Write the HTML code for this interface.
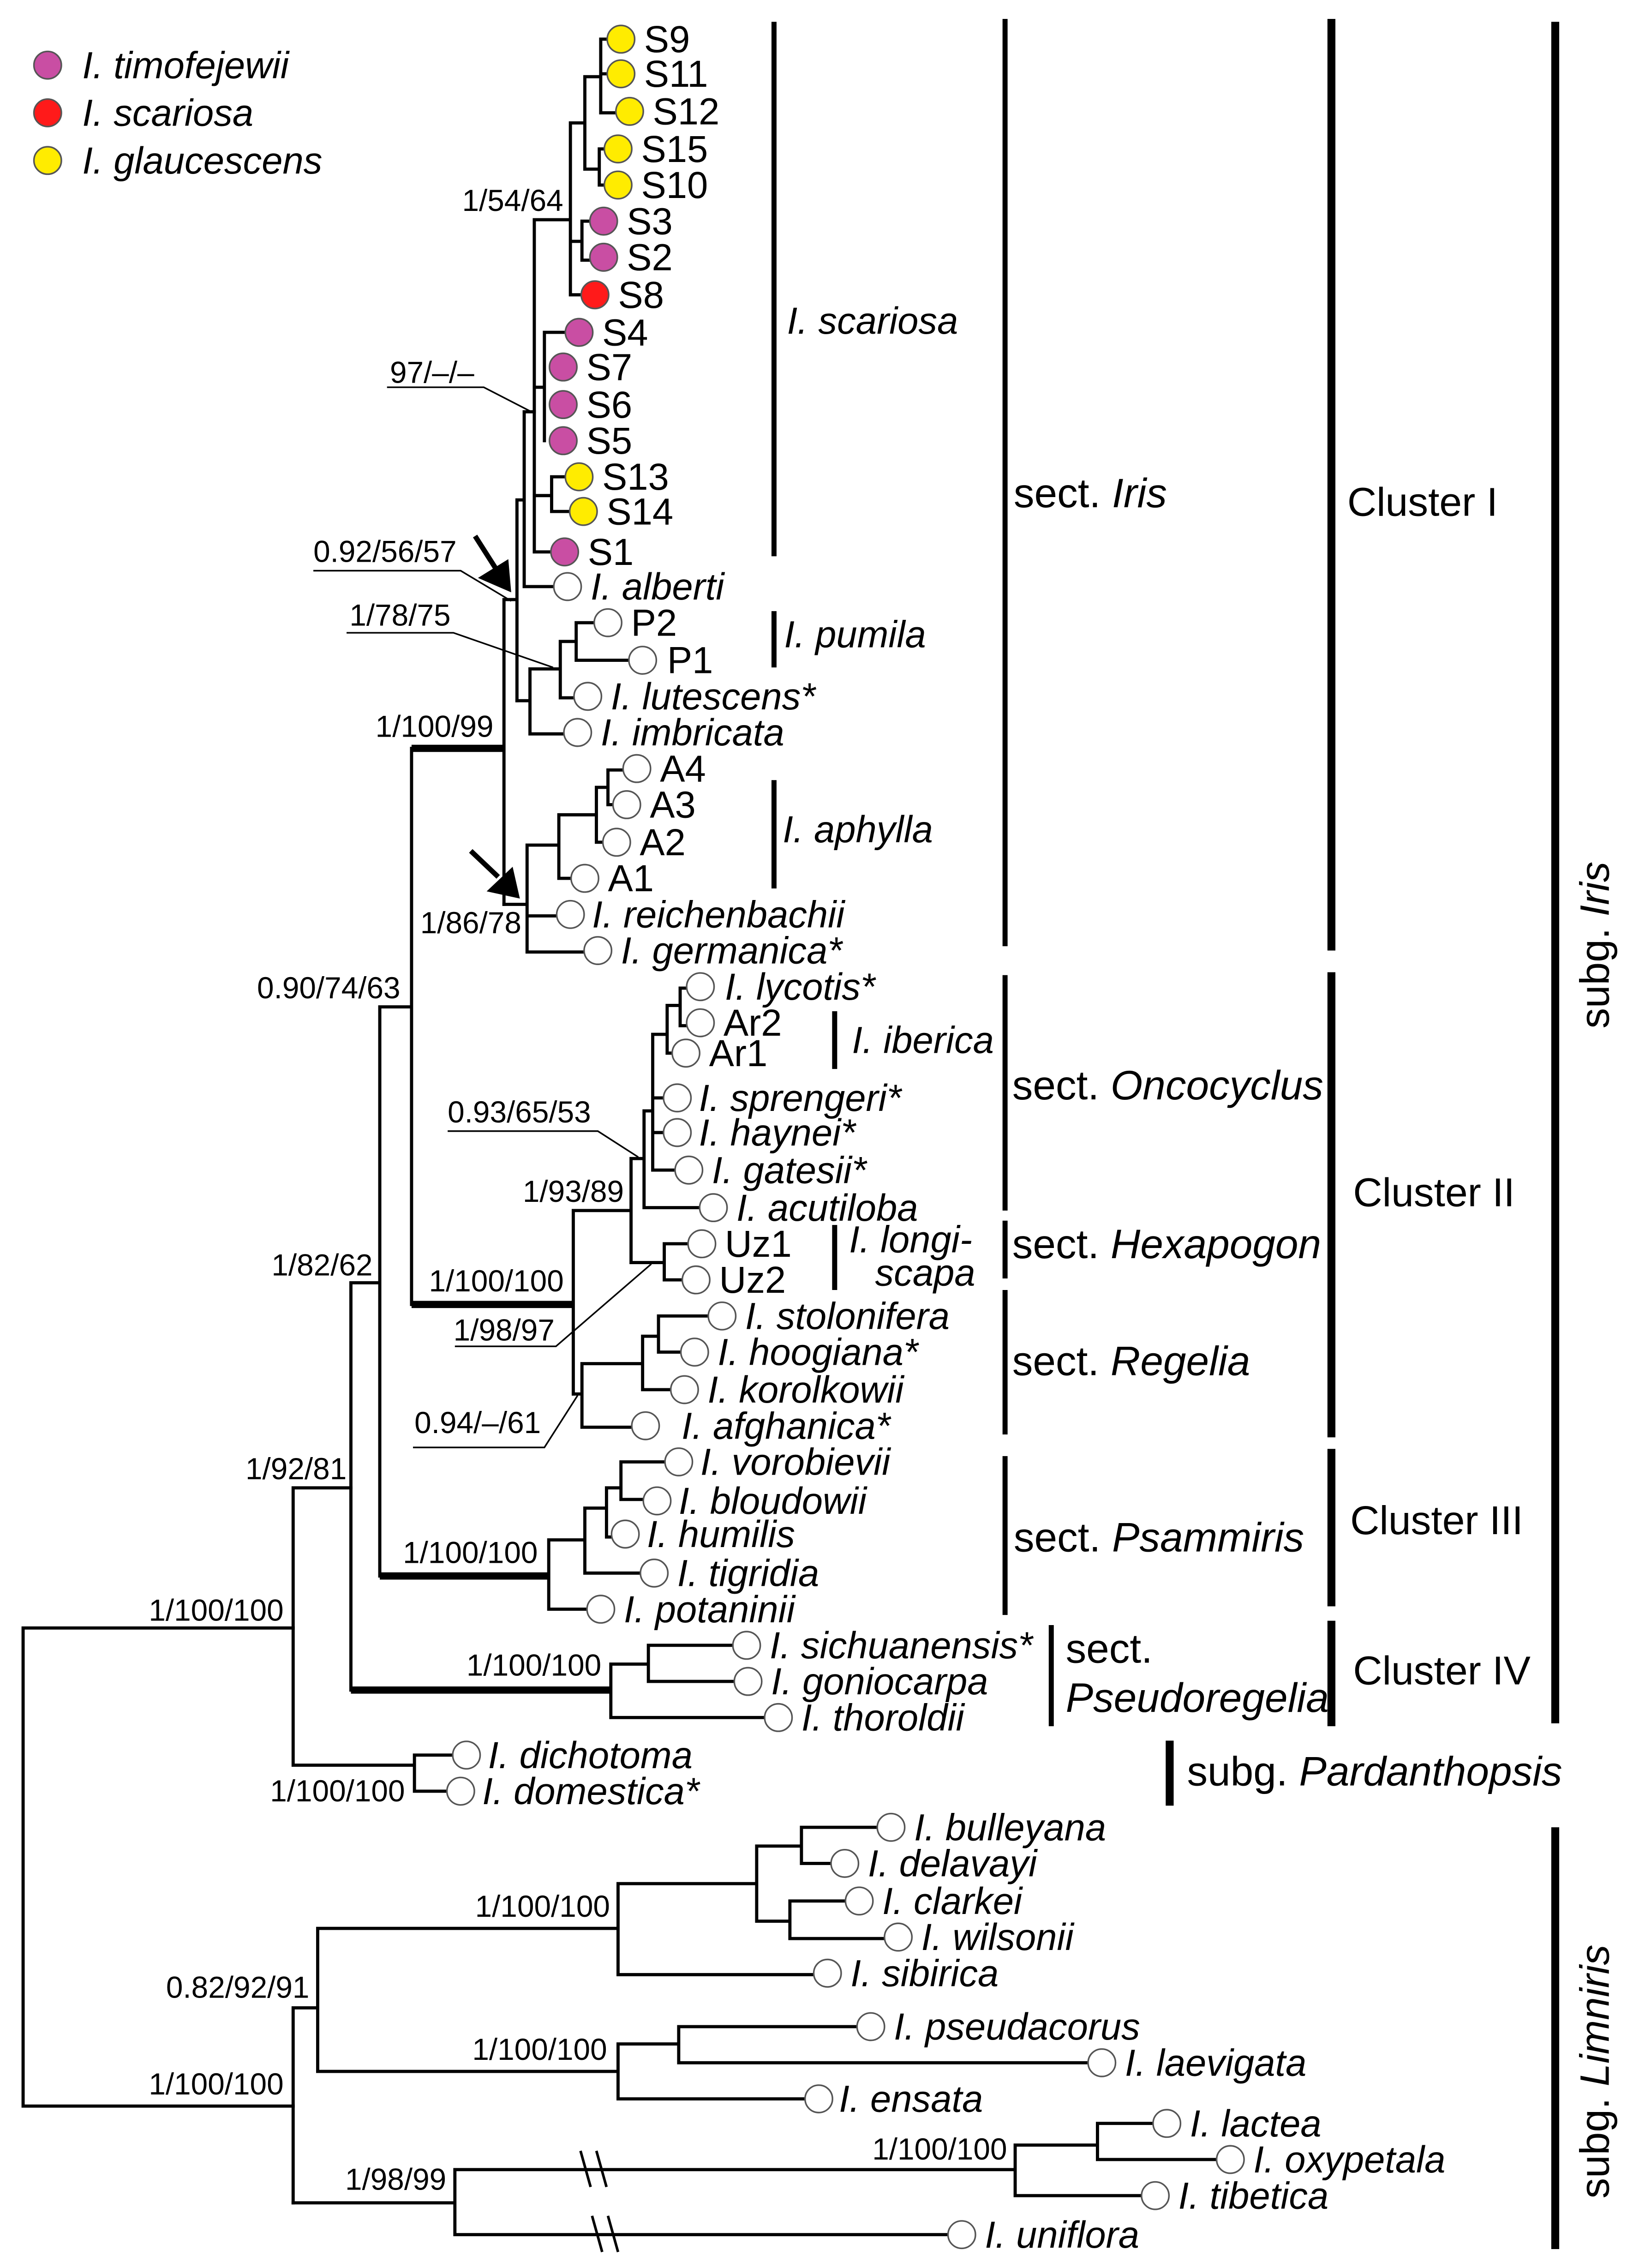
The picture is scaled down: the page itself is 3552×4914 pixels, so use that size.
<!DOCTYPE html>
<html><head><meta charset="utf-8"><style>
html,body{margin:0;padding:0;background:#fff}
svg{display:block}
text{font-family:"Liberation Sans",Arial,sans-serif;fill:#000}
.t{font-size:26px}
.n{font-size:21px}
.b{font-size:28.5px}
.c{font-size:28px}
</style></head><body>
<svg xmlns="http://www.w3.org/2000/svg" width="3552" height="4914" viewBox="0 0 1135 1570">
<rect width="1135" height="1570" fill="#fff"/>
<g stroke="#000" stroke-width="2.2" fill="none" stroke-linecap="square">
<path d="M16 1127V1458M16 1127H203M16 1458H203"/>
<path d="M203 1030V1222M203 1030H243M203 1222H287M287 1215V1240M287 1215H314M287 1240H310"/>
<path d="M243 888V1170M243 888H263M263 697V1091M263 697H285M285 518V903"/>
<path d="M349 415V626M349 415H358M358 346V485M358 346H363M363 285V406M363 406H384M363 285H370"/>
<path d="M370 152V382M370 382H382M370 152H395M395 85V204M395 204H403M395 167H403M403 153V180M403 153H409M403 180H409M395 85H405M405 53V117M405 117H415M415 103V128M415 103H419M415 128H419M405 53H416M416 27V78M416 27H421M416 51H421M416 78H427"/>
<path d="M370 268H377M377 230V305M377 230H392M370 343H382M382 330V354M382 330H392M382 354H395"/>
<path d="M358 485H367M367 463V508M367 508H391M367 463H388M388 444V483M388 483H398M388 444H399M399 431V457M399 431H412M399 457H436"/>
<path d="M349 626H365M365 585V659M365 659H405M365 634H386M365 585H387M387 564V608M387 608H396M387 564H413M413 545V583M413 583H418M413 545H421M421 533V557M421 533H432M421 557H425"/>
<path d="M397 838V965M397 838H437M437 802V874M437 874H460M460 861V886M460 861H477M460 886H473M437 802H446M446 769V836M446 836H485M446 769H452M452 716V810M452 760H460M452 784H460M452 810H468M452 716H462M462 696V729M462 729H466M462 696H471M471 684V710M471 684H476M471 710H476"/>
<path d="M397 965H403M403 944V988M403 988H438M403 944H445M445 925V962M445 962H465M445 925H456M456 911V936M456 911H491M456 936H472"/>
<path d="M380 1066V1114M380 1114H407M380 1066H405M405 1044V1089M405 1089H444M405 1044H420M420 1030V1064M420 1064H424M420 1030H430M430 1012V1038M430 1012H461M430 1038H446"/>
<path d="M423 1152V1189M423 1189H530M423 1152H449M449 1139V1164M449 1139H508M449 1164H509"/>
<path d="M203 1390V1525M203 1390H220M220 1335V1434M220 1335H428M428 1304V1367M428 1367H564M428 1304H524M524 1278V1330M524 1278H555M555 1265V1290M555 1265H608M555 1290H576M524 1330H547M547 1316V1342M547 1316H586M547 1342H613"/>
<path d="M220 1434H428M428 1415V1453M428 1453H558M428 1415H470M470 1403V1428M470 1403H594M470 1428H754"/>
<path d="M203 1525H315M315 1502V1547M315 1502H703M315 1547H657M703 1485V1520M703 1485H760M703 1520H791M760 1470V1495M760 1470H799M760 1495H843"/>
</g>
<g stroke="#000" stroke-width="1.1" fill="none">
<path d="M268 268H335L368 285M217 395H319L354 416M240 438H314L383 462M310 783H414L442 801M315 932H385L451 875M286 1002H377L400 966"/>
</g>
<g stroke="#000" stroke-width="1.8"><path d="M402 1489L409 1514M413 1489L420 1514M410 1534L417 1559M421 1534L428 1559"/></g>
<g stroke="#000" stroke-width="5" fill="none">
<path d="M285 518H349M285 903H397M263 1091H380M243 1170H423"/>
</g>
<g stroke="#000" stroke-width="3.5"><path d="M329 371L343 393M326 589L345 607"/></g>
<path d="M354 410L331 400L352 387Z" fill="#000"/>
<path d="M360 622L337 617L355 600Z" fill="#000"/>
<g stroke="#555" stroke-width="1.1">
<g fill="#ffec00">
<circle cx="430" cy="27" r="9.5"/><circle cx="430" cy="51" r="9.5"/><circle cx="436" cy="77" r="9.5"/><circle cx="428" cy="103" r="9.5"/><circle cx="428" cy="128" r="9.5"/><circle cx="401" cy="330" r="9.5"/><circle cx="404" cy="354" r="9.5"/><circle cx="33" cy="111" r="9.5"/>
</g>
<g fill="#c94ea3">
<circle cx="418" cy="153" r="9.5"/><circle cx="418" cy="178" r="9.5"/><circle cx="401" cy="230" r="9.5"/><circle cx="390" cy="254" r="9.5"/><circle cx="390" cy="280" r="9.5"/><circle cx="390" cy="305" r="9.5"/><circle cx="391" cy="382" r="9.5"/><circle cx="33" cy="45" r="9.5"/>
</g>
<g fill="#ff1a1a"><circle cx="412" cy="204" r="9.5"/><circle cx="33" cy="78" r="9.5"/></g>
<g fill="#fff">
<circle cx="393" cy="406" r="9.5"/><circle cx="421" cy="431" r="9.5"/><circle cx="445" cy="457" r="9.5"/><circle cx="407" cy="482" r="9.5"/><circle cx="400" cy="507" r="9.5"/>
<circle cx="441" cy="532" r="9.5"/><circle cx="434" cy="557" r="9.5"/><circle cx="427" cy="583" r="9.5"/><circle cx="405" cy="608" r="9.5"/><circle cx="395" cy="633" r="9.5"/><circle cx="414" cy="658" r="9.5"/>
<circle cx="485" cy="683" r="9.5"/><circle cx="485" cy="708" r="9.5"/><circle cx="475" cy="729" r="9.5"/><circle cx="469" cy="760" r="9.5"/><circle cx="469" cy="784" r="9.5"/><circle cx="477" cy="810" r="9.5"/><circle cx="494" cy="836" r="9.5"/>
<circle cx="486" cy="861" r="9.5"/><circle cx="482" cy="886" r="9.5"/><circle cx="500" cy="911" r="9.5"/><circle cx="481" cy="936" r="9.5"/><circle cx="474" cy="962" r="9.5"/><circle cx="447" cy="987" r="9.5"/>
<circle cx="470" cy="1012" r="9.5"/><circle cx="455" cy="1039" r="9.5"/><circle cx="433" cy="1062" r="9.5"/><circle cx="453" cy="1089" r="9.5"/><circle cx="416" cy="1114" r="9.5"/>
<circle cx="517" cy="1139" r="9.5"/><circle cx="518" cy="1164" r="9.5"/><circle cx="539" cy="1189" r="9.5"/><circle cx="323" cy="1215" r="9.5"/><circle cx="319" cy="1240" r="9.5"/>
<circle cx="617" cy="1265" r="9.5"/><circle cx="585" cy="1290" r="9.5"/><circle cx="595" cy="1316" r="9.5"/><circle cx="622" cy="1341" r="9.5"/><circle cx="573" cy="1366" r="9.5"/>
<circle cx="603" cy="1403" r="9.5"/><circle cx="763" cy="1428" r="9.5"/><circle cx="567" cy="1453" r="9.5"/><circle cx="808" cy="1470" r="9.5"/><circle cx="852" cy="1495" r="9.5"/><circle cx="800" cy="1520" r="9.5"/><circle cx="666" cy="1547" r="9.5"/>
</g>
</g>
<g class="t" font-style="italic">
<text x="57" y="54">I. timofejewii</text><text x="57" y="87">I. scariosa</text><text x="57" y="120">I. glaucescens</text>
</g>
<g class="t">
<text x="446" y="36">S9</text><text x="446" y="60">S11</text><text x="452" y="86">S12</text><text x="444" y="112">S15</text><text x="444" y="137">S10</text>
<text x="434" y="162">S3</text><text x="434" y="187">S2</text><text x="428" y="213">S8</text><text x="417" y="239">S4</text><text x="406" y="263">S7</text><text x="406" y="289">S6</text><text x="406" y="314">S5</text>
<text x="417" y="339">S13</text><text x="420" y="363">S14</text><text x="407" y="391">S1</text>
<text x="437" y="440">P2</text><text x="462" y="466">P1</text>
<text x="457" y="541">A4</text><text x="450" y="566">A3</text><text x="443" y="592">A2</text><text x="421" y="617">A1</text>
<text x="501" y="717">Ar2</text><text x="491" y="738">Ar1</text><text x="502" y="870">Uz1</text><text x="498" y="895">Uz2</text>
</g>
<g class="t" font-style="italic">
<text x="409" y="415">I. alberti</text><text x="423" y="491">I. lutescens*</text><text x="416" y="516">I. imbricata</text>
<text x="410" y="642">I. reichenbachii</text><text x="430" y="667">I. germanica*</text>
<text x="502" y="692">I. lycotis*</text><text x="484" y="769">I. sprengeri*</text><text x="484" y="793">I. haynei*</text><text x="493" y="819">I. gatesii*</text><text x="510" y="845">I. acutiloba</text>
<text x="516" y="920">I. stolonifera</text><text x="497" y="945">I. hoogiana*</text><text x="490" y="971">I. korolkowii</text><text x="472" y="996">I. afghanica*</text>
<text x="485" y="1021">I. vorobievii</text><text x="470" y="1048">I. bloudowii</text><text x="448" y="1071">I. humilis</text><text x="469" y="1098">I. tigridia</text><text x="432" y="1123">I. potaninii</text>
<text x="533" y="1148">I. sichuanensis*</text><text x="534" y="1173">I. goniocarpa</text><text x="555" y="1198">I. thoroldii</text>
<text x="338" y="1224">I. dichotoma</text><text x="334" y="1249">I. domestica*</text>
<text x="633" y="1274">I. bulleyana</text><text x="601" y="1299">I. delavayi</text><text x="611" y="1325">I. clarkei</text><text x="638" y="1350">I. wilsonii</text><text x="589" y="1375">I. sibirica</text>
<text x="619" y="1412">I. pseudacorus</text><text x="779" y="1437">I. laevigata</text><text x="581" y="1462">I. ensata</text>
<text x="824" y="1479">I. lactea</text><text x="868" y="1504">I. oxypetala</text><text x="816" y="1529">I. tibetica</text><text x="682" y="1556">I. uniflora</text>
<text x="545" y="231">I. scariosa</text><text x="543" y="448">I. pumila</text><text x="542" y="583">I. aphylla</text><text x="590" y="729">I. iberica</text>
<text x="588" y="867">I. longi-</text><text x="606" y="890">scapa</text>
</g>
<g class="n">
<text x="320" y="146">1/54/64</text><text x="270" y="265">97/–/–</text><text x="217" y="389">0.92/56/57</text><text x="242" y="433">1/78/75</text>
<text x="260" y="510">1/100/99</text><text x="291" y="646">1/86/78</text><text x="178" y="691">0.90/74/63</text>
<text x="310" y="777">0.93/65/53</text><text x="362" y="832">1/93/89</text><text x="297" y="894">1/100/100</text><text x="314" y="928">1/98/97</text>
<text x="188" y="883">1/82/62</text><text x="287" y="992">0.94/–/61</text><text x="170" y="1024">1/92/81</text><text x="279" y="1082">1/100/100</text>
<text x="103" y="1122">1/100/100</text><text x="323" y="1160">1/100/100</text><text x="187" y="1247">1/100/100</text>
<text x="329" y="1327">1/100/100</text><text x="115" y="1383">0.82/92/91</text><text x="327" y="1426">1/100/100</text><text x="103" y="1450">1/100/100</text>
<text x="239" y="1516">1/98/99</text><text x="604" y="1495">1/100/100</text>
</g>
<g stroke="#000" stroke-width="3.5">
<path d="M536 15V385M536 423V462M536 540V615M578 700V740M578 848V893M696 13V655M696 675V838M696 845V885M696 893V993M696 1008V1118M728 1125V1195"/>
</g>
<g stroke="#000" stroke-width="5.5">
<path d="M922 13V658M922 673V995M922 1003V1112M922 1122V1195M1077 15V1193M810 1205V1250M1077 1265V1557"/>
</g>
<g class="b">
<text x="702" y="351">sect. <tspan font-style="italic">Iris</tspan></text>
<text x="701" y="761">sect. <tspan font-style="italic">Oncocyclus</tspan></text>
<text x="701" y="871">sect. <tspan font-style="italic">Hexapogon</tspan></text>
<text x="701" y="952">sect. <tspan font-style="italic">Regelia</tspan></text>
<text x="702" y="1074">sect. <tspan font-style="italic">Psammiris</tspan></text>
<text x="738" y="1151">sect.</text><text x="738" y="1185" font-style="italic">Pseudoregelia</text>
<text x="822" y="1236">subg. <tspan font-style="italic">Pardanthopsis</tspan></text>
<text transform="translate(1114 712) rotate(-90)">subg. <tspan font-style="italic">Iris</tspan></text>
<text transform="translate(1114 1522) rotate(-90)">subg. <tspan font-style="italic">Limniris</tspan></text>
</g>
<g class="c">
<text x="933" y="357">Cluster I</text><text x="937" y="835">Cluster II</text><text x="935" y="1062">Cluster III</text><text x="937" y="1166">Cluster IV</text>
</g>
</svg>
</body></html>
